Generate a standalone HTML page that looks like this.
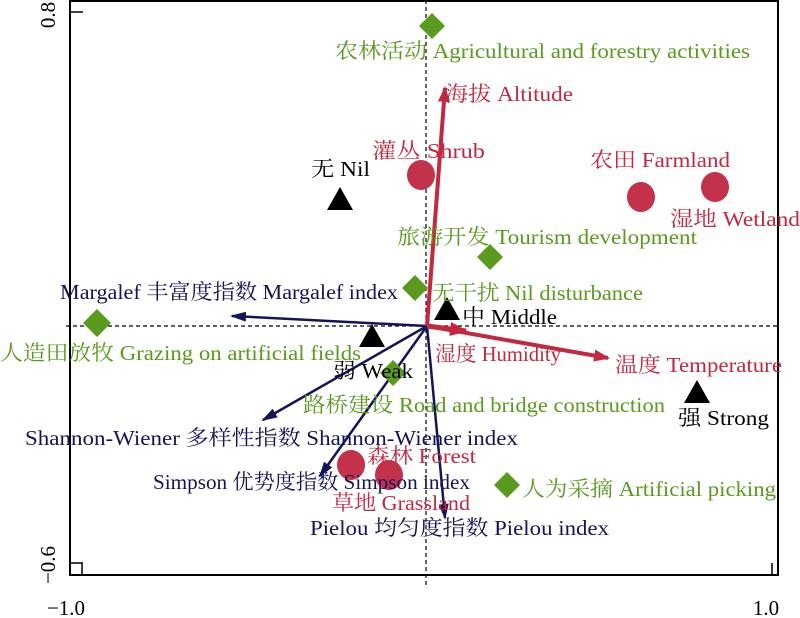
<!DOCTYPE html>
<html><head><meta charset="utf-8"><style>
html,body{margin:0;padding:0;background:#fff;}
svg{display:block;}
text{font-family:"Liberation Serif","Noto Serif CJK SC",serif;font-size:21px;}
.g{fill:#5a9a1e}.r{fill:#c3283f}.n{fill:#14145a}.k{fill:#000}
</style></head><body>
<svg width="800" height="618" viewBox="0 0 800 618" xmlns="http://www.w3.org/2000/svg">
<defs>
<marker id="ar" markerWidth="16" markerHeight="12" refX="14" refY="6" orient="auto" markerUnits="userSpaceOnUse"><path d="M0,0 L16,6 L0,12 z" fill="#c3283f"/></marker>
<marker id="an" markerWidth="16" markerHeight="10" refX="14" refY="5" orient="auto" markerUnits="userSpaceOnUse"><path d="M0,0 L16,5 L0,10 z" fill="#14145a"/></marker>
<marker id="arb" markerWidth="18" markerHeight="14" refX="16" refY="7" orient="auto" markerUnits="userSpaceOnUse"><path d="M0,0 L18,7 L0,14 z" fill="#c3283f"/></marker>
</defs>
<rect x="70" y="1" width="708" height="574" fill="none" stroke="#000" stroke-width="2"/>
<line x1="70" y1="12" x2="83" y2="12" stroke="#000" stroke-width="1.5"/>
<line x1="70" y1="563" x2="83" y2="563" stroke="#000" stroke-width="1.5"/>
<line x1="82" y1="575" x2="82" y2="563" stroke="#000" stroke-width="1.5"/>
<line x1="772" y1="575" x2="772" y2="563" stroke="#000" stroke-width="1.5"/>
<line x1="426" y1="0" x2="426" y2="585" stroke="#000" stroke-width="1.2" stroke-dasharray="4,3"/>
<line x1="66" y1="326" x2="780" y2="326" stroke="#000" stroke-width="1.2" stroke-dasharray="4,3"/>
<text transform="translate(55,15) rotate(-90)" text-anchor="middle" class="k">0.8</text>
<text transform="translate(55,565) rotate(-90)" text-anchor="middle" class="k">−0.6</text>
<text x="66" y="615" text-anchor="middle" class="k">−1.0</text>
<text x="766" y="615" text-anchor="middle" class="k">1.0</text>
<g stroke="#14145a" stroke-width="2.5" fill="none">
<line x1="427" y1="326" x2="232" y2="316" marker-end="url(#an)"/>
<line x1="427" y1="326" x2="263" y2="420" marker-end="url(#an)"/>
<line x1="427" y1="326" x2="320" y2="476" marker-end="url(#an)"/>
<line x1="427" y1="326" x2="445" y2="518" marker-end="url(#an)"/>
</g>
<g stroke="#c3283f" fill="none">
<line x1="427" y1="326" x2="445" y2="88" stroke-width="4" marker-end="url(#ar)"/>
<line x1="427" y1="326" x2="608" y2="358" stroke-width="4" marker-end="url(#ar)"/>
<line x1="427" y1="326" x2="466" y2="331" stroke-width="5" marker-end="url(#arb)"/>
</g>
<g fill="#5a9a1e">
<path d="M432,13 l13,13 l-13,13 l-13,-13z"/>
<path d="M490,244 l13,13 l-13,13 l-13,-13z"/>
<path d="M415,275 l13,13 l-13,13 l-13,-13z"/>
<path d="M97,309 l14,14 l-14,14 l-14,-14z"/>
<path d="M393,360 l13,13 l-13,13 l-13,-13z"/>
<path d="M507,472 l13,13 l-13,13 l-13,-13z"/>
</g>
<g fill="#c3324a">
<ellipse cx="421" cy="175" rx="14" ry="15"/>
<ellipse cx="641" cy="197" rx="14" ry="15"/>
<ellipse cx="715" cy="187" rx="14" ry="15"/>
<ellipse cx="351" cy="465" rx="14" ry="15"/>
<ellipse cx="389" cy="475" rx="14" ry="15"/>
</g>
<g fill="#000">
<path d="M340,187 l13,23 h-26z"/>
<path d="M447,297 l13,23 h-26z"/>
<path d="M372,324 l13,23 h-26z"/>
<path d="M697,380 l13,23 h-26z"/>
</g>
<g>
<text x="335" y="58" class="g" textLength="415" lengthAdjust="spacingAndGlyphs">农林活动 Agricultural and forestry activities</text>
<text x="445" y="101" class="r" textLength="128" lengthAdjust="spacingAndGlyphs">海拔 Altitude</text>
<text x="372" y="158" class="r" textLength="113" lengthAdjust="spacingAndGlyphs">灌丛 Shrub</text>
<text x="590" y="167" class="r" textLength="140" lengthAdjust="spacingAndGlyphs">农田 Farmland</text>
<text x="670" y="226" class="r" textLength="130" lengthAdjust="spacingAndGlyphs">湿地 Wetland</text>
<text x="311" y="176" class="k" textLength="59" lengthAdjust="spacingAndGlyphs">无 Nil</text>
<text x="397" y="244" class="g" textLength="300" lengthAdjust="spacingAndGlyphs">旅游开发 Tourism development</text>
<text x="60" y="299" class="n" textLength="338" lengthAdjust="spacingAndGlyphs">Margalef 丰富度指数 Margalef index</text>
<text x="432" y="300" class="g" textLength="211" lengthAdjust="spacingAndGlyphs">无干扰 Nil disturbance</text>
<text x="462" y="324" class="k" textLength="95" lengthAdjust="spacingAndGlyphs">中 Middle</text>
<text x="0" y="360" class="g" textLength="361" lengthAdjust="spacingAndGlyphs">人造田放牧 Grazing on artificial fields</text>
<text x="435" y="361" class="r" textLength="126" lengthAdjust="spacingAndGlyphs">湿度 Humidity</text>
<text x="615" y="372" class="r" textLength="167" lengthAdjust="spacingAndGlyphs">温度 Temperature</text>
<text x="333" y="378" class="k" textLength="80" lengthAdjust="spacingAndGlyphs">弱 Weak</text>
<text x="303" y="412" class="g" textLength="362" lengthAdjust="spacingAndGlyphs">路桥建设 Road and bridge construction</text>
<text x="678" y="425" class="k" textLength="91" lengthAdjust="spacingAndGlyphs">强 Strong</text>
<text x="25" y="445" class="n" textLength="493" lengthAdjust="spacingAndGlyphs">Shannon-Wiener 多样性指数 Shannon-Wiener index</text>
<text x="367" y="463" class="r" textLength="109" lengthAdjust="spacingAndGlyphs">森林 Forest</text>
<text x="153" y="489" class="n" textLength="317" lengthAdjust="spacingAndGlyphs">Simpson 优势度指数 Simpson index</text>
<text x="522" y="496" class="g" textLength="254" lengthAdjust="spacingAndGlyphs">人为采摘 Artificial picking</text>
<text x="332" y="510" class="r" textLength="138" lengthAdjust="spacingAndGlyphs">草地 Grassland</text>
<text x="310" y="535" class="n" textLength="299" lengthAdjust="spacingAndGlyphs">Pielou 均匀度指数 Pielou index</text>
</g>
</svg>
</body></html>
